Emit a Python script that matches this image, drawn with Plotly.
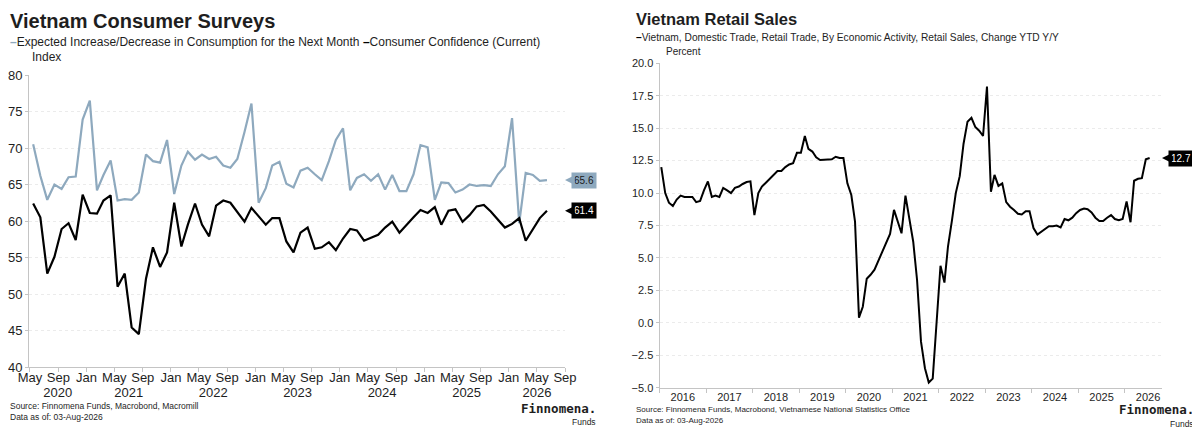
import pandas as pd
import plotly.graph_objects as go

# the page puts the figure 8px in from the top-left corner of the window
W, H = 1192, 424
PAGE_OFFSET = 8
FONT = "Liberation Sans, Arial, sans-serif"
TEXT = "#1e1e1e"
AXIS = "#c4c4c4"
GRID = "#ebebeb"
STEEL = "#8ea9be"

# Vietnam consumer surveys, monthly May 2020 - Jun 2026 (index)
survey_start = "2020-05-01"
survey_names = [
    "Expected Increase/Decrease in Consumption for the Next Month",
    "Consumer Confidence (Current)",
]
expected_consumption = [
    70.5, 66.2, 62.9, 65.0, 64.4, 66.0, 66.1, 73.9,
    76.5, 64.2, 66.3, 68.3, 62.8, 63.0, 62.9, 63.9, 69.1, 68.2, 68.0, 71.1,
    63.7, 67.6, 69.5, 68.4, 69.1, 68.5, 68.8, 67.6, 67.3, 68.5, 72.2, 76.1,
    62.5, 64.5, 67.6, 68.1, 65.1, 64.6, 66.9, 67.3, 66.4, 65.6, 68.2, 71.1,
    72.7, 64.2, 65.9, 66.4, 65.5, 66.4, 64.3, 66.3, 64.1, 64.1, 66.4, 70.4,
    70.1, 62.9, 65.3, 65.2, 63.9, 64.3, 65.0, 64.8, 64.9, 64.8, 66.4, 67.5,
    74.1, 59.7, 66.6, 66.3, 65.5, 65.6,
]
consumer_confidence = [
    62.4, 60.5, 52.8, 55.1, 58.9, 59.7, 57.4, 63.6,
    61.1, 61.0, 62.8, 63.5, 51.0, 52.8, 45.4, 44.5, 52.1, 56.4, 53.7, 55.7,
    62.5, 56.5, 59.5, 62.4, 59.5, 57.9, 62.1, 62.8, 62.5, 61.2, 59.9, 61.8,
    60.7, 59.5, 60.4, 60.4, 57.2, 55.7, 58.4, 59.1, 56.2, 56.4, 57.1, 56.0,
    57.6, 58.9, 58.7, 57.3, 57.7, 58.1, 59.1, 59.9, 58.4, 59.5, 60.5, 61.5,
    61.1, 61.9, 59.5, 61.4, 61.6, 59.9, 60.8, 62.0, 62.2, 61.3, 60.2, 59.1,
    59.6, 60.4, 57.3, 58.8, 60.4, 61.4,
]
survey_years = ["2020", "2021", "2022", "2023", "2024", "2025", "2026"]

# Vietnam retail sales, change YTD y/y, monthly Jan 2016 - Jul 2026 (percent)
retail_start = "2016-01-01"
retail_name = ("Vietnam, Domestic Trade, Retail Trade, By Economic Activity, "
               "Retail Sales, Change YTD Y/Y")
retail_sales = [
    12.0, 10.0, 9.26, 9.0, 9.5, 9.8, 9.7, 9.7, 9.7, 9.3, 9.4, 10.2,
    10.9, 9.7, 9.8, 9.7, 10.4, 10.2, 10.0, 10.4, 10.5, 10.7, 10.85, 10.9,
    8.3, 10.0, 10.5, 10.8, 11.1, 11.4, 11.7, 11.7, 12.0, 12.2, 12.3, 13.1,
    13.1, 14.4, 13.4, 13.2, 12.75, 12.55, 12.55, 12.55, 12.6, 12.8, 12.7, 12.7,
    10.75, 9.85, 7.8, 0.4, 1.24, 3.4, 3.7, 4.1, 4.8, 5.5, 6.25, 6.85,
    8.7, 7.8, 6.9, 9.8, 8.05, 6.25, 3.3, -1.45, -3.5, -4.6, -4.3, 0.1,
    4.4, 3.1, 5.9, 7.9, 10.0, 11.3, 13.8, 15.5, 15.8, 15.1, 14.8, 14.4,
    18.2, 10.1, 11.4, 10.55, 10.75, 9.3, 8.95, 8.7, 8.4, 8.35, 8.6, 8.6,
    7.3, 6.8, 7.0, 7.2, 7.45, 7.45, 7.5, 7.35, 8.0, 7.9, 8.1, 8.45,
    8.7, 8.8, 8.75, 8.5, 8.1, 7.85, 7.85, 8.1, 8.3, 8.0, 7.9, 8.0,
    9.35, 7.75, 10.95, 11.1, 11.15, 12.6, 12.7,
]

source_left = "Source: Finnomena Funds, Macrobond, Macromill"
source_right = "Source: Finnomena Funds, Macrobond, Vietnamese National Statistics Office"
data_as_of = "Data as of: 03-Aug-2026"


# positions below are window pixels, converted to paper fractions
def px(x):
    return (x - PAGE_OFFSET) / W


def py(y):
    return 1 - (y - PAGE_OFFSET) / H


def monthly(start, n):
    # mid-month stamps, as the source plots them
    return pd.date_range(start, periods=n, freq="MS") + pd.Timedelta(days=14)


survey_dates = monthly(survey_start, len(consumer_confidence))
retail_dates = monthly(retail_start, len(retail_sales))

left_range = [pd.Timestamp("2020-04-27"), pd.Timestamp("2026-09-01")]
right_range = [pd.Timestamp("2016-01-01"), pd.Timestamp("2026-10-20")]

# year labels sit in the middle of the visible part of each year
year_pos = []
for yr in survey_years:
    lo = max(pd.Timestamp(f"{yr}-01-01"), left_range[0])
    hi = min(pd.Timestamp(f"{int(yr) + 1}-01-01"), left_range[1])
    year_pos.append(lo + (hi - lo) / 2)

fig = go.Figure()
fig.add_trace(go.Scatter(x=survey_dates, y=expected_consumption, name=survey_names[0],
                         mode="lines", line=dict(color=STEEL, width=2.2),
                         xaxis="x", yaxis="y"))
fig.add_trace(go.Scatter(x=survey_dates, y=consumer_confidence, name=survey_names[1],
                         mode="lines", line=dict(color="#000000", width=2.2),
                         xaxis="x", yaxis="y"))
# carrier for the year row under the month labels (draws nothing)
fig.add_trace(go.Scatter(x=survey_dates, y=consumer_confidence, mode="lines",
                         line=dict(width=0), opacity=0, hoverinfo="skip",
                         xaxis="x3", yaxis="y"))
fig.add_trace(go.Scatter(x=retail_dates, y=retail_sales, name=retail_name,
                         mode="lines", line=dict(color="#000000", width=2),
                         xaxis="x2", yaxis="y2"))

axis_common = dict(showline=True, linecolor=AXIS, linewidth=1, ticks="outside",
                   tickcolor=AXIS, zeroline=False, automargin=False)

fig.update_layout(
    width=W, height=H,
    margin=dict(l=0, r=0, t=0, b=0, autoexpand=False),
    paper_bgcolor="white", plot_bgcolor="white",
    showlegend=False,
    font=dict(family=FONT, color=TEXT),
    xaxis=dict(domain=[px(29), px(565)], anchor="y", type="date", range=left_range,
               tick0="2020-05-01", dtick="M4", tickformat="%b", showgrid=False,
               ticklen=4, ticklabelstandoff=-6, tickfont=dict(size=13),
               **axis_common),
    xaxis3=dict(overlaying="x", anchor="y", side="bottom", type="date",
                range=left_range, tickmode="array", tickvals=year_pos,
                ticktext=survey_years, showgrid=False, showline=False, ticks="",
                ticklabelstandoff=16, tickfont=dict(size=13), zeroline=False,
                automargin=False),
    yaxis=dict(domain=[py(367), py(75)], anchor="x", range=[40, 80], dtick=5,
               showgrid=True, gridcolor=GRID, griddash="dot", ticklen=3,
               tickfont=dict(size=13), **axis_common),
    xaxis2=dict(domain=[px(659.5), px(1162)], anchor="y2", type="date",
                range=right_range, tick0="2016-01-01", dtick="M12", tickformat="%Y",
                ticklabelmode="period", showgrid=False, ticklen=4,
                ticklabelstandoff=-5, tickfont=dict(size=11), **axis_common),
    yaxis2=dict(domain=[py(387.7), py(63.3)], anchor="x2", range=[-5, 20], dtick=2.5,
                tickformat=".1f", showgrid=True, gridcolor=GRID, griddash="dot",
                ticklen=3, tickfont=dict(size=11), **axis_common),
)


def note(x, y, text, size, xanchor="left", **kw):
    fig.add_annotation(xref="paper", yref="paper", x=px(x), y=py(y), text=text,
                       showarrow=False, xanchor=xanchor, yanchor="middle",
                       font=dict(size=size, family=kw.pop("family", FONT),
                                 color=kw.pop("color", TEXT)), **kw)


def dash(color):
    return f"<span style='color:{color}'><b>–</b></span>"


# left panel texts
note(8, 21, "<b>Vietnam Consumer Surveys</b>", 20)
note(8, 42, dash(STEEL) + survey_names[0] + " " + dash("#000000") + survey_names[1], 12)
note(30, 57, "Index", 12)
note(8, 406, source_left, 8.5)
note(8, 417, data_as_of, 8.5)
note(598, 408, "<b>Finnomena.</b>", 12.5, xanchor="right", family="DejaVu Sans Mono")
note(598, 422, "Funds", 8.5, xanchor="right")

# right panel texts
note(634, 19, "<b>Vietnam Retail Sales</b>", 16.5)
note(634, 37.5, dash("#000000") + retail_name, 10.2)
note(664, 52, "Percent", 10)
note(634, 409, source_right, 8)
note(634, 420, data_as_of, 8)
note(1196, 409, "<b>Finnomena.</b>", 12.5, xanchor="right", family="DejaVu Sans Mono")
note(1196, 424, "Funds", 8.5, xanchor="right")


def last_value_tag(xref, yref, series, bg, fg):
    val = series[-1]
    fig.add_annotation(xref=xref, yref=yref, x=1, y=val, text=f"{val:.1f}",
                       showarrow=True, ax=19, ay=0, arrowhead=2, arrowsize=1.3,
                       arrowwidth=1.5, arrowcolor=bg, standoff=0,
                       bgcolor=bg, borderpad=2,
                       font=dict(size=10, color=fg, family=FONT))


last_value_tag("x domain", "y", expected_consumption, STEEL, "#1a1a1a")
last_value_tag("x domain", "y", consumer_confidence, "#000000", "#ffffff")
last_value_tag("x2 domain", "y2", retail_sales, "#000000", "#ffffff")

fig.write_html("out.html")
